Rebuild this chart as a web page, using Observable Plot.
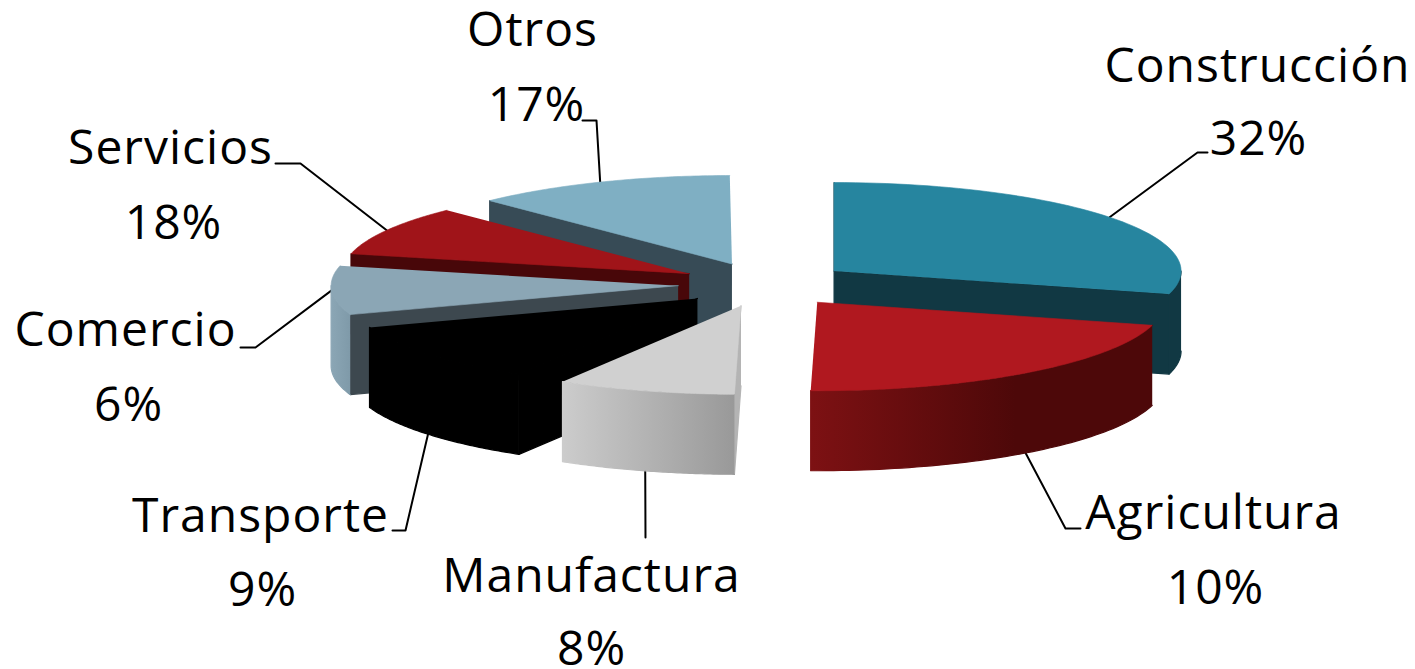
<!DOCTYPE html>
<html>
<head>
<meta charset="utf-8">
<script src="https://cdn.jsdelivr.net/npm/d3@7"></script>
<script src="https://cdn.jsdelivr.net/npm/@observablehq/plot@0.6"></script>
<style>html,body{margin:0;padding:0;background:#fff}svg{display:block}</style>
</head>
<body>
<div id="chart"></div>
<script>
// Data
const categories = ["Construcción","Agricultura","Manufactura","Transporte","Comercio","Servicios","Otros"];
const printedPercent = ["32%","10%","8%","9%","6%","18%","17%"];
// The drawn slices do not match the printed labels; these are the shares as drawn (percent of the circle)
const drawnShare = [29.2,21.1,8.3,11.1,8.9,9.1,12.2];

// Styles
const topFill = ["#26859f","#b0181f","#d0d0d0","#000000","#8ba6b5","#a01419","#7fafc3"];
const sideFill = ["#113843","#4d0809","#b4b4b4","#000000","#3d484f","#480709","#374b56"];
const rimFill = ["#113843","url(#rimAgri)","url(#rimManu)","#000000","url(#rimCom)","#480709","#374b56"];
const paintOrder = [6,5,4,3,0,1,2];

// Pie layout
const cx = 764.5, cy = 284, rx = 347, squash = 0.255, depth = 80, explode = 87;

// Label layout: [label x, first baseline, percent x, second baseline, leader elbow x, y, leader end x, y]
const labelLayout = [
  [1257,81,1258,154, 1197,152,1207,152],
  [1213,528,1215,603, 1065,528,1080,528],
  [591,591,591,664, 645,537,645,537],
  [260,531,262,605, 405,530,392,530],
  [125,345,128,420, 255,347,240,347],
  [170,163,173,238, 300,163,275,163],
  [532,45,536,120, 596,120,582,120]
];

const rad = d => d * Math.PI / 180;
let acc = 0;
const slices = drawnShare.map((s, i) => {
  const a0 = acc; acc += s * 3.6; const a1 = acc;
  const mid = (a0 + a1) / 2;
  const ox = cx + explode * Math.sin(rad(mid));
  const oy = cy - explode * Math.cos(rad(mid)) * squash;
  const pt = (a, dz = 0) => ({x: ox + rx * Math.sin(rad(a)), y: oy - rx * squash * Math.cos(rad(a)) + dz});
  return {i, a0, a1, mid, ox, oy, pt};
});
const arc = (s, a, b, dz = 0) => d3.range(0, 61).map(k => s.pt(a + (b - a) * k / 60, dz));

const polys = [];
for (const idx of paintOrder) {
  const s = slices[idx];
  const apex = {x: s.ox, y: s.oy}, apexLow = {x: s.ox, y: s.oy + depth};
  if (Math.sin(rad(s.a0)) < 0.02) polys.push({pts: [apex, s.pt(s.a0), s.pt(s.a0, depth), apexLow], fill: sideFill[idx], sw: 1.2});
  if (Math.sin(rad(s.a1)) > 0) polys.push({pts: [apex, s.pt(s.a1), s.pt(s.a1, depth), apexLow], fill: sideFill[idx], sw: 1.2});
  const r0 = Math.max(s.a0, 90), r1 = Math.min(s.a1, 270);
  if (r1 > r0) polys.push({pts: [...arc(s, r0, r1), ...arc(s, r1, r0, depth)], fill: rimFill[idx], sw: 1.2});
  polys.push({pts: [apex, ...arc(s, s.a0, s.a1)], fill: topFill[idx], sw: 0.6});
}

const leaders = slices.map((s, i) => {
  const visibleRim = s.mid > 90 && s.mid < 260;
  const start = s.pt(s.mid, visibleRim ? depth : 0);
  const L = labelLayout[i];
  return [start, {x: L[4], y: L[5]}, {x: L[6], y: L[7]}];
});

const labelRows = categories.flatMap((c, i) => [
  {t: c, x: labelLayout[i][0], y: labelLayout[i][1]},
  {t: printedPercent[i], x: labelLayout[i][2], y: labelLayout[i][3]}
]);

function gradient(id, stops) {
  return d3.create("svg:linearGradient").attr("id", id).attr("x1", 0).attr("x2", 1).attr("y1", 0).attr("y2", 0)
    .call(g => stops.forEach(([o, c]) => g.append("stop").attr("offset", o).attr("stop-color", c))).node();
}
const defsMark = () => {
  const d = d3.create("svg:defs");
  d.node().append(
    gradient("rimAgri", [[0, "#7d1113"], [0.6, "#4d0809"], [1, "#4d0809"]]),
    gradient("rimManu", [[0, "#cccccc"], [1, "#999999"]]),
    gradient("rimCom", [[0, "#8ba6b5"], [1, "#7f9aa9"]])
  );
  return d.node();
};

const plot = Plot.plot({
  width: 1415, height: 669,
  marginTop: 0, marginRight: 0, marginBottom: 0, marginLeft: 0,
  x: {domain: [0, 1415], range: [0, 1415], axis: null},
  y: {domain: [0, 669], range: [0, 669], axis: null},
  style: {background: "#fff", fontFamily: "'Open Sans', sans-serif", letterSpacing: "1px"},
  marks: [
    defsMark,
    ...leaders.map(l => Plot.line(l, {x: "x", y: "y", stroke: "#000", strokeWidth: 2})),
    ...polys.map(p => Plot.line(p.pts, {x: "x", y: "y", fill: p.fill, stroke: p.fill, strokeWidth: p.sw})),
    Plot.text(labelRows, {x: "x", y: "y", text: "t", fontSize: 48, fill: "#000", textAnchor: "middle", lineAnchor: "bottom", dy: 0})
  ]
});
document.getElementById("chart").append(plot);
</script>
</body>
</html>
